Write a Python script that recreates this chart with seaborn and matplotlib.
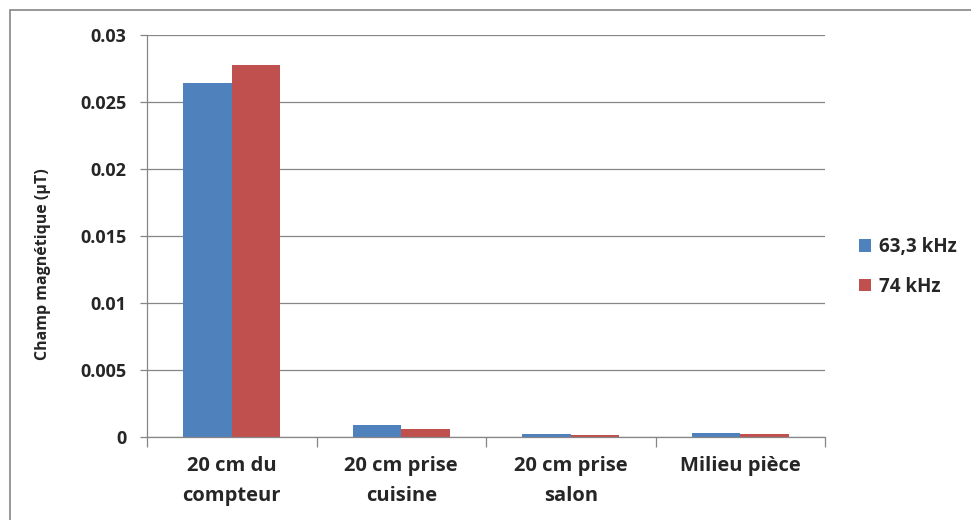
"""Bar chart: champ magnétique par emplacement et fréquence."""

import matplotlib
matplotlib.use("Agg")
import matplotlib.pyplot as plt
import pandas as pd
import seaborn as sns

categories = ["20 cm du\ncompteur", "20 cm prise\ncuisine", "20 cm prise\nsalon", "Milieu pièce"]
series = ["63,3 kHz", "74 kHz"]
values_63 = [0.02642, 0.00090, 0.00022, 0.00030]
values_74 = [0.02776, 0.00057, 0.00015, 0.00022]
yticks = [0, 0.005, 0.01, 0.015, 0.02, 0.025, 0.03]
ytick_labels = ["0", "0.005", "0.01", "0.015", "0.02", "0.025", "0.03"]

df = pd.DataFrame({
    "cat": categories * 2,
    "freq": [series[0]] * 4 + [series[1]] * 4,
    "val": values_63 + values_74,
})

sns.set_theme(style="white")
plt.rcParams["font.family"] = ["Open Sans", "DejaVu Sans"]

fig = plt.figure(figsize=(9.71, 5.2), dpi=100)
ax = fig.add_axes([147 / 971, 1 - 437 / 520, (825 - 147) / 971, (437 - 35) / 520])

sns.barplot(data=df, x="cat", y="val", hue="freq", order=categories, hue_order=series,
            palette=["#4F81BD", "#C0504D"], width=0.57, saturation=1, ax=ax,
            edgecolor="none", linewidth=0)

ax.set_ylim(0, 0.03)
ax.set_xlim(-0.5, 3.5)
ax.set_yticks(yticks)
ax.set_yticklabels(ytick_labels, fontsize=13, fontweight="bold")
ax.set_xticks(range(4))
ax.set_xticklabels(categories, fontsize=14.5, fontweight="bold", linespacing=1.65)
ax.set_xlabel("")
ax.set_ylabel("Champ magnétique (µT)", fontsize=11.5, fontweight="bold")
ax.yaxis.set_label_coords(-0.141, 0.43)
ax.yaxis.grid(True, color="#868686", linewidth=0.9)
ax.set_axisbelow(True)
for side in ["top", "right"]:
    ax.spines[side].set_visible(False)
for side in ["left", "bottom"]:
    ax.spines[side].set_color("#868686")
    ax.spines[side].set_linewidth(0.9)

# Category separator ticks on the x axis
ax.set_xticks([-0.5, 0.5, 1.5, 2.5, 3.5], minor=True)
ax.tick_params(axis="x", which="minor", length=7, color="#868686", width=0.9, bottom=True)
ax.tick_params(axis="x", which="major", length=0, pad=14)
ax.tick_params(axis="y", length=5, color="#868686", width=0.9, left=True, pad=10)

leg = ax.legend(loc="center left", bbox_to_anchor=(1.025, 0.423), frameon=False,
                prop={"weight": "bold", "size": 13.5}, handlelength=0.65, handleheight=0.65,
                labelspacing=1.05, handletextpad=0.45)

# Outer chart border
border = plt.Rectangle((10 / 971, -0.05), 1.1, 1 - 10 / 520 + 0.05, transform=fig.transFigure,
                       fill=False, edgecolor="#868686", linewidth=1.2)
fig.patches.append(border)

fig.savefig("out.png", dpi=100)
plt.close(fig)
